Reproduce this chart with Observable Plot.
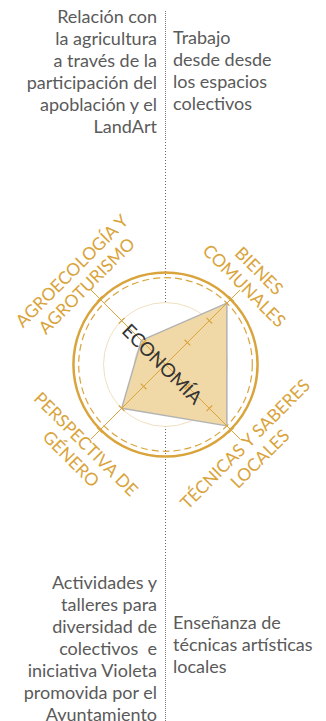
<!DOCTYPE html>
<html>
<head>
<meta charset="utf-8">
<script src="https://cdn.jsdelivr.net/npm/d3@7"></script>
<script src="https://cdn.jsdelivr.net/npm/@observablehq/plot@0.6"></script>
<style>
  body { margin: 0; background: #fff; }
  #wrap { position: relative; width: 326px; height: 721px; font-family: Lato, "Open Sans", sans-serif; overflow: hidden; }
  .note { position: absolute; font-size: 18px; line-height: 22px; color: #5a5a5a; white-space: pre; font-weight: 400; }
  .note.l { text-align: right; right: 169px; }
  .note.r { text-align: left; left: 173px; }
  .dots { position: absolute; left: 165px; width: 0; border-left: 1px dotted #777; }
  #chart { position: absolute; left: 0; top: 140px; }
</style>
</head>
<body>
<div id="wrap">
  <div class="dots" style="top:11px;height:129px"></div>
  <div class="dots" style="top:560px;height:161px"></div>
  <div id="tl" class="note l" style="top:5px"></div>
  <div id="tr" class="note r" style="top:26px"></div>
  <div id="bl" class="note l" style="top:571px"></div>
  <div id="br" class="note r" style="top:611px"></div>
  <div id="chart"></div>
</div>
<script>
// ---- data ----
const axisLabels = ["AGROECOLOGÍA Y\nAGROTURISMO", "BIENES\nCOMUNALES", "TÉCNICAS Y SABERES\nLOCALES", "PERSPECTIVA DE\nGÉNERO"];
const axisAngles = [135, 45, -45, -135];
const values = [1.1, 2.8, 2.8, 2.0];
const ringValues = [1, 2];
const tickValues = [1, 2, 3];
const dashedRing = [2.8];
const outerRing = [2.97];
const centerLabel = ["ECONOMÍA"];
const noteTopLeft = ["Relación con", "la agricultura", "a través de la", "participación del", "apoblación y el", "LandArt"];
const noteTopRight = ["Trabajo", "desde desde", "los espacios", "colectivos"];
const noteBottomLeft = ["Actividades y", "talleres para", "diversidad de", "colectivos  e", "iniciativa Violeta", "promovida por el", "Ayuntamiento"];
const noteBottomRight = ["Enseñanza de", "técnicas artísticas", "locales"];

document.getElementById("tl").textContent = noteTopLeft.join("\n");
document.getElementById("tr").textContent = noteTopRight.join("\n");
document.getElementById("bl").textContent = noteBottomLeft.join("\n");
document.getElementById("br").textContent = noteBottomRight.join("\n");

// ---- layout ----
const W = 326, H = 420, U = 31, CX = 165, CY = 224;
const axisLen = 3.4, labelR = 3.95, tickHalf = 0.13;
const gold = "#d9a43c", faint = "#f1e0c0";
const rad = a => a * Math.PI / 180;

const axes = axisLabels.map((label, i) => ({label, angle: axisAngles[i], value: values[i]}));
const ticks = axes.flatMap(a => tickValues.map(t => ({a: rad(a.angle), t})));
const rot = {135: -45, 45: 45, "-45": -45, "-135": 45};

const ymax = CY / U, ymin = -(H - CY) / U;

const chart = Plot.plot({
  width: W, height: H, margin: 0,
  x: {domain: [-CX / U, (W - CX) / U], axis: null},
  y: {domain: [ymin, ymax], axis: null},
  r: {type: "linear", domain: [0, 1], range: [0, U]},
  marks: [
    Plot.ruleX([0], {x: () => 0, y1: () => 2, y2: () => ymax, stroke: "#666", strokeDasharray: "1,2"}),
    Plot.ruleX([0], {x: () => 0, y1: () => -2, y2: () => ymin, stroke: "#666", strokeDasharray: "1,2"}),
    Plot.dot(ringValues, {x: () => 0, y: () => 0, r: d => d, fill: "none", stroke: faint, strokeWidth: 1}),
    Plot.line(axes, {x: d => d.value * Math.cos(rad(d.angle)), y: d => d.value * Math.sin(rad(d.angle)),
      curve: "linear-closed", fill: "#f0d9a6", stroke: "#b3b3b3", strokeWidth: 1.5}),
    Plot.link(axes, {x1: () => 0, y1: () => 0, x2: d => axisLen * Math.cos(rad(d.angle)), y2: d => axisLen * Math.sin(rad(d.angle)),
      stroke: gold, strokeWidth: 1}),
    Plot.link(ticks, {
      x1: d => d.t * Math.cos(d.a) - tickHalf * Math.sin(d.a), y1: d => d.t * Math.sin(d.a) + tickHalf * Math.cos(d.a),
      x2: d => d.t * Math.cos(d.a) + tickHalf * Math.sin(d.a), y2: d => d.t * Math.sin(d.a) - tickHalf * Math.cos(d.a),
      stroke: gold, strokeWidth: 1.2}),
    Plot.dot(dashedRing, {x: () => 0, y: () => 0, r: d => d, fill: "none", stroke: gold, strokeWidth: 1.2, strokeDasharray: "7,4"}),
    Plot.dot(outerRing, {x: () => 0, y: () => 0, r: d => d, fill: "none", stroke: gold, strokeWidth: 2.5}),
    ...axes.map(d => Plot.text([d], {
      x: () => labelR * Math.cos(rad(d.angle)), y: () => labelR * Math.sin(rad(d.angle)),
      text: "label", rotate: rot[d.angle], fill: gold, fontSize: 17.5, lineHeight: 1.2, fontWeight: 400,
      textAnchor: "middle", lineAnchor: "middle", fontFamily: "Lato"})),
    Plot.text(centerLabel, {x: () => -0.12, y: () => 0, text: d => d, rotate: 45, fill: "#333",
      fontSize: 19, fontWeight: 400, fontFamily: "Lato", textAnchor: "middle", lineAnchor: "middle"})
  ]
});
document.getElementById("chart").appendChild(chart);
</script>
</body>
</html>
